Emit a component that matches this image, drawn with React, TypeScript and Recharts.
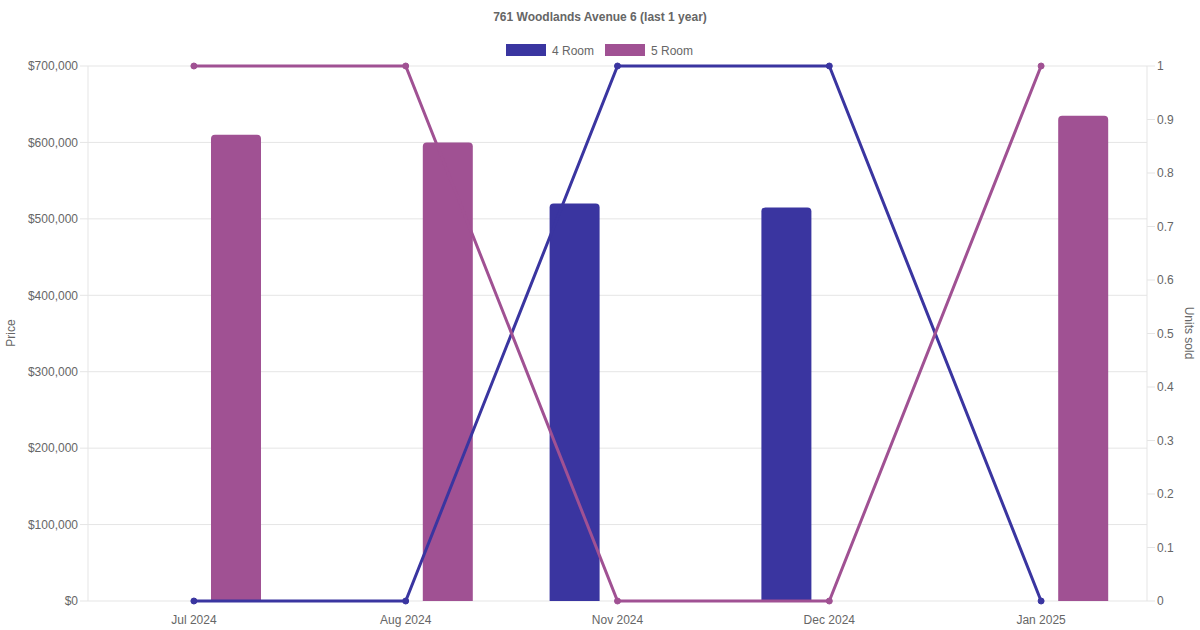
import { Bar, CartesianGrid, ComposedChart, Line, XAxis, YAxis } from "recharts";

const months = ["Jul 2024", "Aug 2024", "Nov 2024", "Dec 2024", "Jan 2025"];
const price4Room = [null, null, 520000, 515000, null];
const price5Room = [610000, 600000, null, null, 635000];
const units4Room = [0, 0, 1, 1, 0];
const units5Room = [1, 1, 0, 0, 1];

const priceTicks = [0, 100000, 200000, 300000, 400000, 500000, 600000, 700000];
const unitTicks = [0, 0.1, 0.2, 0.3, 0.4, 0.5, 0.6, 0.7, 0.8, 0.9, 1];

const BLUE = "#3a35a0";
const PURPLE = "#a05193";
const TEXT = "#666";
const GRID = "#e5e5e5";
const FONT = '"Liberation Sans", Arial, Helvetica, sans-serif';

const data = months.map((month, i) => ({
  month,
  price4: price4Room[i],
  price5: price5Room[i],
  units4: units4Room[i],
  units5: units5Room[i],
}));

const fmtPrice = (v: number) => "$" + v.toLocaleString("en-US");

export default function App() {
  return (
    <div
      style={{
        position: "absolute",
        left: 0,
        top: 0,
        width: 1200,
        height: 630,
        background: "#fff",
        fontFamily: FONT,
      }}
    >
      <ComposedChart
        width={1200}
        height={630}
        data={data}
        margin={{ top: 66, right: 0, bottom: 0, left: 0 }}
        barGap={35}
      >
        <CartesianGrid
          yAxisId="left"
          stroke={GRID}
          vertical={false}
        />
        <XAxis
          dataKey="month"
          height={29}
          axisLine={false}
          tickLine={false}
          tickSize={12}
          tickMargin={2}
          tick={{ fontSize: 12, fill: TEXT }}
        />
        <YAxis
          yAxisId="left"
          width={88}
          domain={[0, 700000]}
          ticks={priceTicks}
          tickFormatter={fmtPrice}
          tickSize={8}
          tickMargin={2}
          stroke={GRID}
          tick={{ fontSize: 12, fill: TEXT }}
        />
        <YAxis
          yAxisId="right"
          orientation="right"
          width={53}
          domain={[0, 1]}
          ticks={unitTicks}
          tickSize={8}
          tickMargin={2}
          stroke={GRID}
          tick={{ fontSize: 12, fill: TEXT }}
        />
        <Bar
          yAxisId="left"
          dataKey="price4"
          name="4 Room"
          fill={BLUE}
          barSize={50}
          radius={[4, 4, 0, 0]}
          isAnimationActive={false}
        />
        <Bar
          yAxisId="left"
          dataKey="price5"
          name="5 Room"
          fill={PURPLE}
          barSize={50}
          radius={[4, 4, 0, 0]}
          isAnimationActive={false}
        />
        <Line
          yAxisId="right"
          dataKey="units4"
          name="4 Room"
          stroke={BLUE}
          strokeWidth={3}
          dot={{ r: 3, fill: BLUE, stroke: BLUE, strokeWidth: 1 }}
          activeDot={false}
          isAnimationActive={false}
        />
        <Line
          yAxisId="right"
          dataKey="units5"
          name="5 Room"
          stroke={PURPLE}
          strokeWidth={3}
          dot={{ r: 3, fill: PURPLE, stroke: PURPLE, strokeWidth: 1 }}
          activeDot={false}
          isAnimationActive={false}
        />
      </ComposedChart>
      <svg
        width={1200}
        height={630}
        style={{ position: "absolute", left: 0, top: 0, pointerEvents: "none" }}
        fontFamily={FONT}
        fontSize={12}
        fill={TEXT}
      >
        <text x={600} y={17} textAnchor="middle" dominantBaseline="central" fontWeight="bold">
          761 Woodlands Avenue 6 (last 1 year)
        </text>
        <rect x={506} y={44} width={40} height={12} fill={BLUE} />
        <text x={552} y={51} dominantBaseline="central">
          4 Room
        </text>
        <rect x={605} y={44} width={40} height={12} fill={PURPLE} />
        <text x={651} y={51} dominantBaseline="central">
          5 Room
        </text>
        <text
          x={11}
          y={333}
          textAnchor="middle"
          dominantBaseline="central"
          transform="rotate(-90 11 333)"
        >
          Price
        </text>
        <text
          x={1189}
          y={333}
          textAnchor="middle"
          dominantBaseline="central"
          transform="rotate(90 1189 333)"
        >
          Units sold
        </text>
      </svg>
    </div>
  );
}
